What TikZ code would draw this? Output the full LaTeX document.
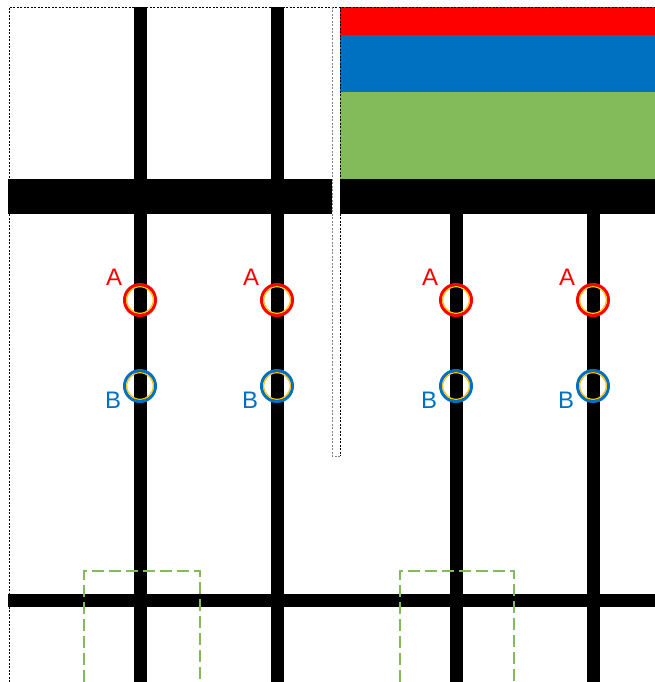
\documentclass[tikz,border=0pt]{standalone}
\usepackage{fontspec}
\setmainfont{Liberation Sans}
\definecolor{mred}{HTML}{FF0000}
\definecolor{mblue}{HTML}{0070C0}
\definecolor{mgreen}{HTML}{84BB5A}
\definecolor{myellow}{HTML}{FFC000}

\begin{document}
\begin{tikzpicture}[x=1bp,y=-1bp,every node/.style={font=\fontsize{24}{24}\selectfont},
        post/.style={line width=13bp,black},
        ringA/.style={circle,draw=mred,line width=3bp,minimum size=31bp,inner sep=0},
        ringB/.style={circle,draw=mblue,line width=3bp,minimum size=31bp,inner sep=0},
        zone/.style={mgreen,line width=1.5bp,dash pattern=on 12bp off 5bp},
        frame/.style={line width=0.8bp,dash pattern=on 2bp off 1.5bp}]
        \useasboundingbox (0,0) rectangle (655,682);
        \clip (0,0) rectangle (655,682);
        % posts and beams
        \foreach \x in {140,277}{
            \draw[post] (\x,7) -- (\x,682);
        }
        \foreach \x in {456,593}{
            \draw[post] (\x,214) -- (\x,682);
        }
        \draw[post] (8,600) -- (655,600);
        \fill[mred] (340,7) rectangle (655,35);
        \fill[mblue] (340,35) rectangle (655,92);
        \fill[mgreen] (340,92) rectangle (655,179);
        \fill (340,179) rectangle (655,214);
        \fill (8,179) rectangle (332,214);
        % outlines
        \draw[frame] (9,682) -- (9,7) -- (655,7);
        \draw[frame,gray] (332,7) -- (332,456) -- (340,456);
        \draw[frame] (340,7) -- (340,456);
        \draw[zone] (84,682) -- (84,571) -- (200,571) -- (200,682);
        \draw[zone] (400,682) -- (400,571) -- (514,571) -- (514,682);
        % measuring points
        \foreach \x/\n in {140/1,277/2,456/3,593/4}{
            \node[ringA] (a\n) at (\x,300) {};
            \node[ringB] (b\n) at (\x,386) {};
            \draw[myellow,line width=1.2bp] (a\n.center) circle (13.3bp);
            \draw[myellow,line width=1.2bp] (b\n.center) circle (13.3bp);
            \node[text=mred] (la\n) at (\x-26,277) {A};
            \node[text=mblue] (lb\n) at (\x-27,400) {B};
        }
    \end{tikzpicture}
\end{document}
